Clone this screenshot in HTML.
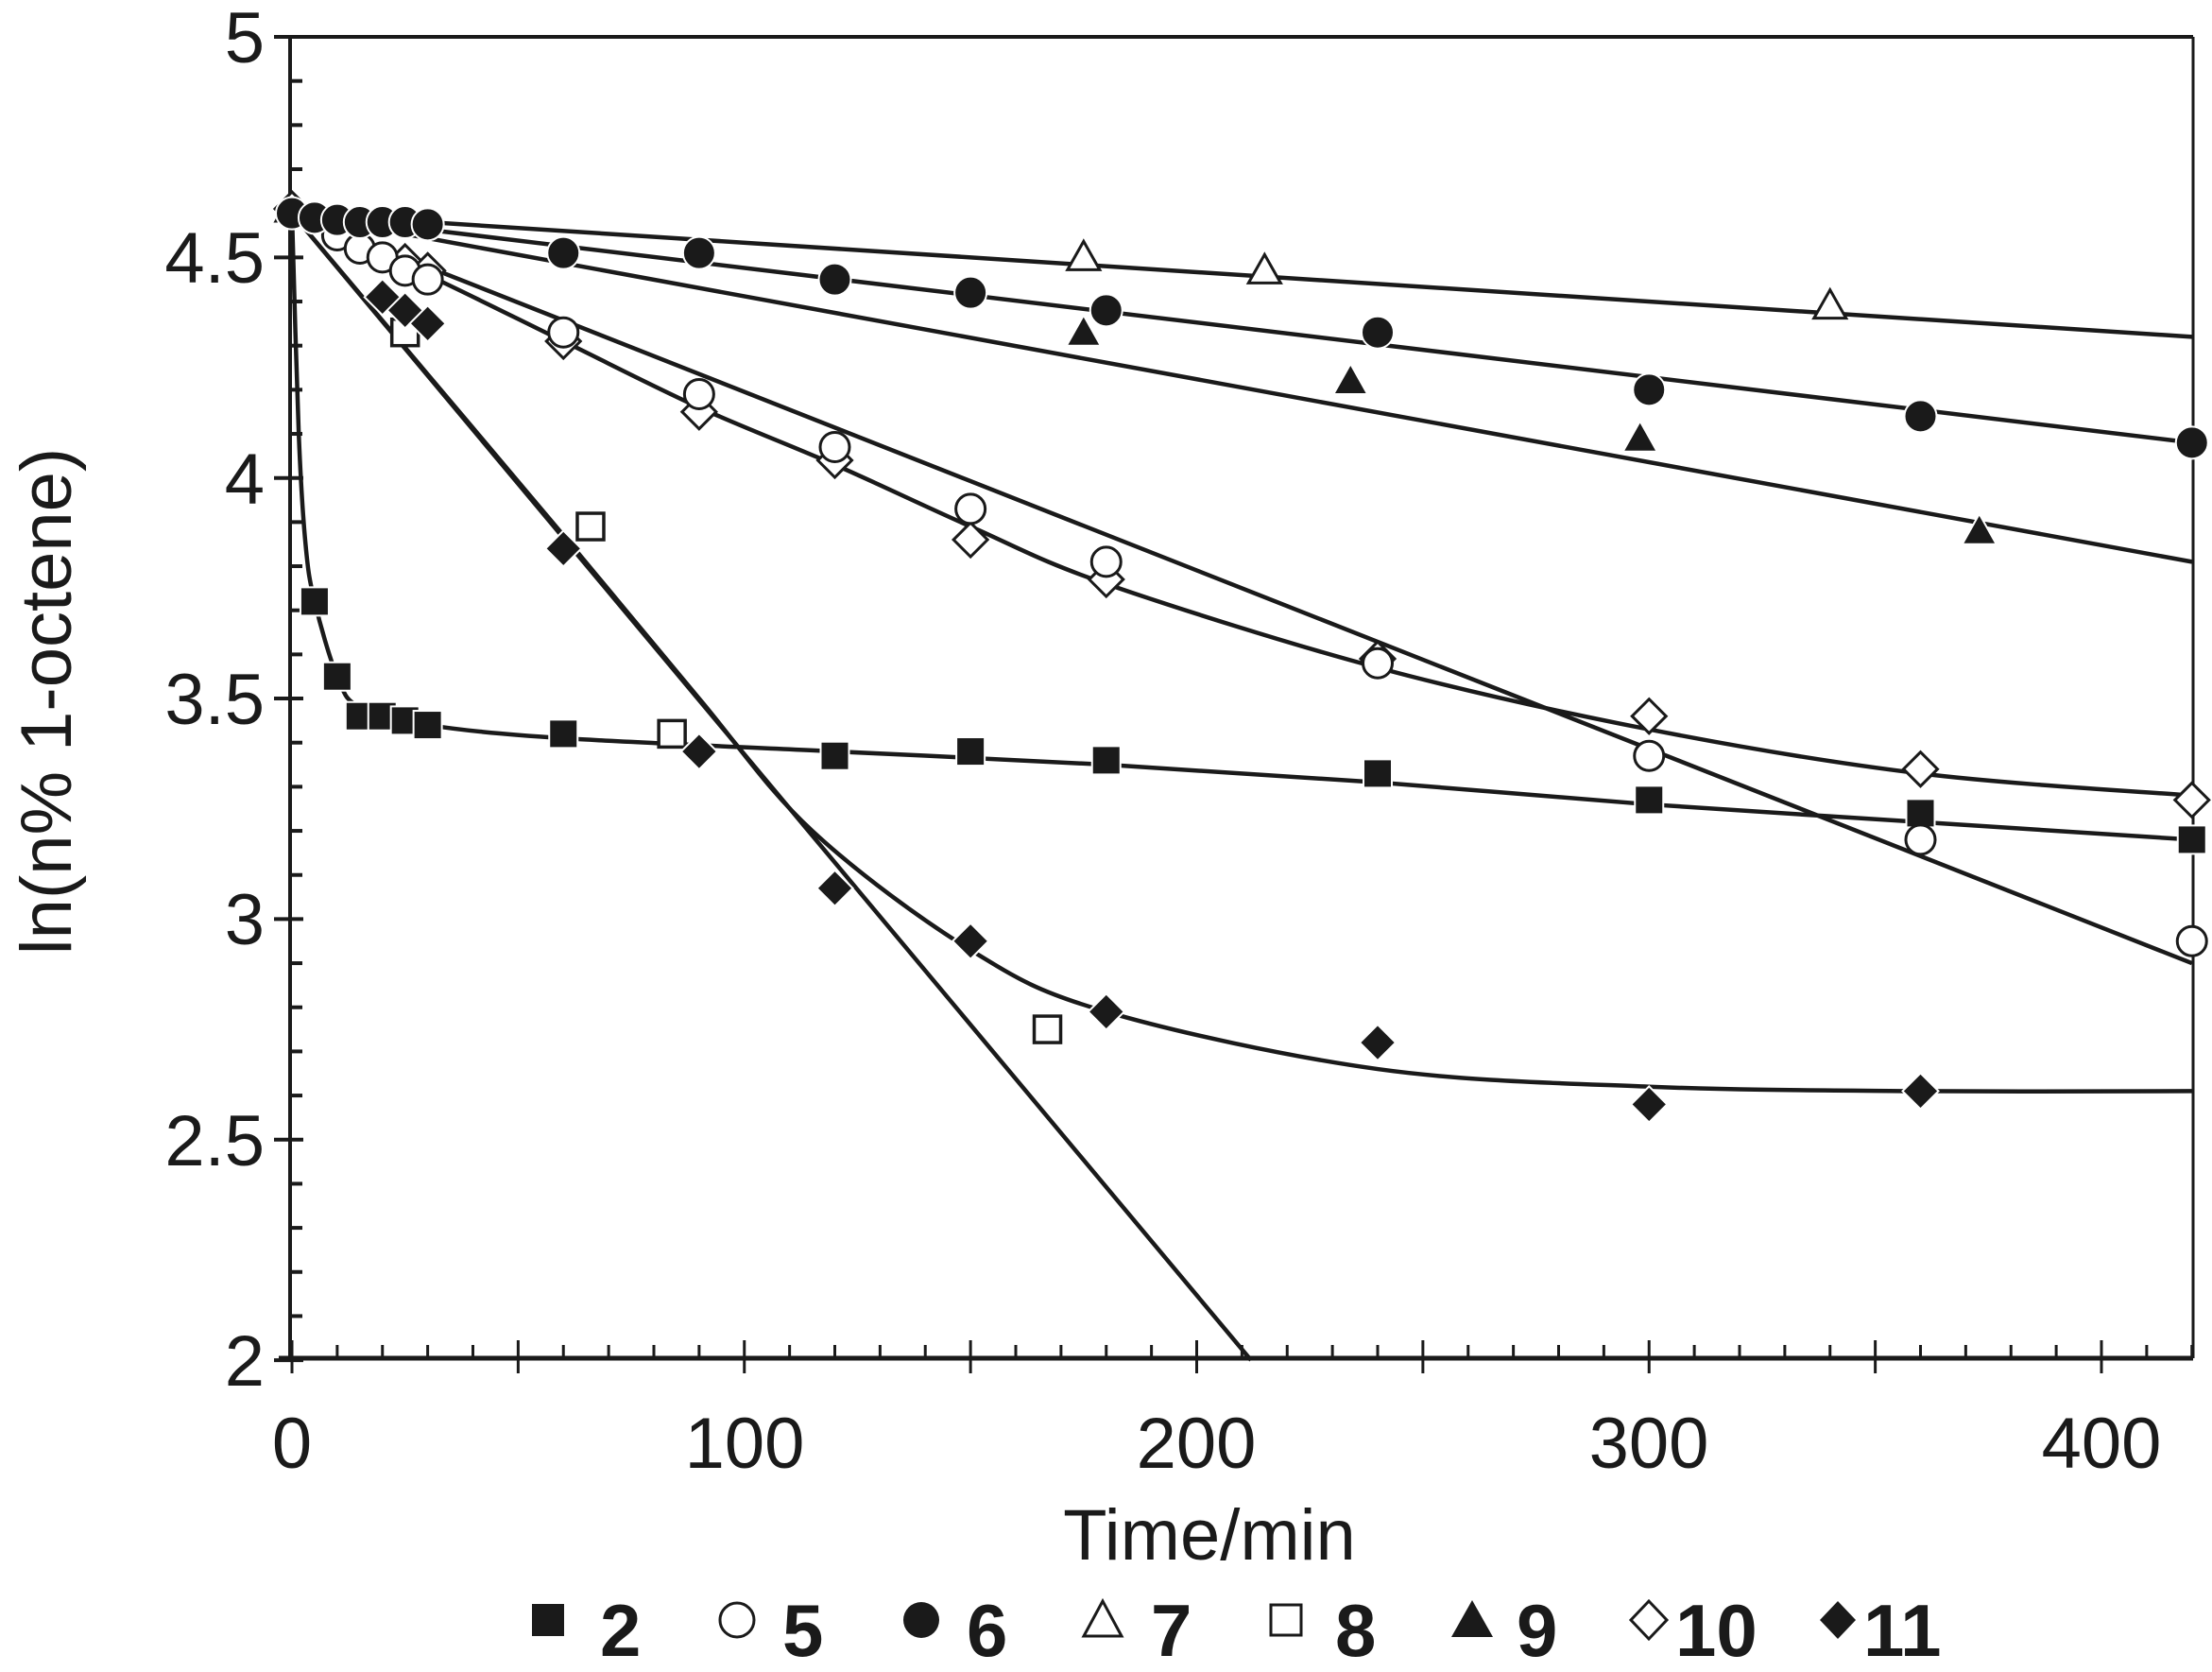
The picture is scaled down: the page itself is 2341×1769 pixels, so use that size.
<!DOCTYPE html>
<html><head><meta charset="utf-8"><style>
html,body{margin:0;padding:0;background:#fff;}
svg{display:block;}
text{font-family:"Liberation Sans",sans-serif;fill:#1a1a1a;}
</style></head><body>
<svg id="s" width="2341" height="1769" viewBox="0 0 2341 1769" xmlns="http://www.w3.org/2000/svg">
<rect width="2341" height="1769" fill="#fff"/>
<g id="axes" stroke="#1a1a1a" fill="none"></g>
<g id="lines" stroke="#1a1a1a" stroke-width="4.5" fill="none"></g>
<g id="marks"></g>
<g font-size="76" text-anchor="end">
<text x="280" y="66">5</text>
<text x="280" y="299">4.5</text>
<text x="280" y="533">4</text>
<text x="280" y="766">3.5</text>
<text x="280" y="999">3</text>
<text x="280" y="1233">2.5</text>
<text x="280" y="1466">2</text>
</g>
<g font-size="76" text-anchor="middle">
<text x="309" y="1553">0</text>
<text x="788" y="1553">100</text>
<text x="1266" y="1553">200</text>
<text x="1745" y="1553">300</text>
<text x="2224" y="1553">400</text>
<text x="1280" y="1650">Time/min</text>
<text transform="translate(75,742) rotate(-90)">ln(n% 1-octene)</text>
</g>
<g font-size="78" font-weight="bold">
<rect x="563" y="1697" width="34" height="34" fill="#1a1a1a"/>
<text x="635" y="1752">2</text>
<circle cx="780" cy="1714" r="18" fill="#fff" stroke="#1a1a1a" stroke-width="3"/>
<text x="828" y="1752">5</text>
<circle cx="975" cy="1714" r="19" fill="#1a1a1a"/>
<text x="1023" y="1752">6</text>
<polygon points="1167,1694 1147,1731 1187,1731" fill="#fff" stroke="#1a1a1a" stroke-width="3"/>
<text x="1218" y="1752">7</text>
<rect x="1345" y="1698" width="32" height="32" fill="#fff" stroke="#1a1a1a" stroke-width="3"/>
<text x="1413" y="1752">8</text>
<polygon points="1558,1693 1536,1732 1580,1732" fill="#1a1a1a"/>
<text x="1605" y="1752">9</text>
<polygon points="1745,1694 1764,1714 1745,1734 1726,1714" fill="#fff" stroke="#1a1a1a" stroke-width="3"/>
<text x="1773" y="1752">10</text>
<polygon points="1945,1694 1964,1714 1945,1734 1926,1714" fill="#1a1a1a"/>
<text x="1972" y="1752">11</text>
</g>
</svg>
<script>
var X=function(t){return 309+t*4.7875;},Y=function(v){return 39+(5-v)*466.7;};
var NS="http://www.w3.org/2000/svg";
function el(p,n,a){var e=document.createElementNS(NS,n);for(var k in a)e.setAttribute(k,a[k]);p.appendChild(e);return e;}
var ax=document.getElementById('axes');
el(ax,'line',{x1:307,y1:39,x2:2321,y2:39,'stroke-width':4});
el(ax,'line',{x1:307,y1:39,x2:307,y2:1437,'stroke-width':4});
el(ax,'line',{x1:2321,y1:39,x2:2321,y2:1437,'stroke-width':3});
el(ax,'line',{x1:295,y1:1437,x2:2321,y2:1437,'stroke-width':5});
for(var i=0;i<=30;i++){var y=Y(5-i*0.1);if(i%5==0)el(ax,'line',{x1:290,y1:y,x2:321,y2:y,'stroke-width':4});else el(ax,'line',{x1:307,y1:y,x2:320,y2:y,'stroke-width':4});}
for(var t=0;t<=420;t+=10){var x=X(t);if(t%50==0)el(ax,'line',{x1:x,y1:1418,x2:x,y2:1453,'stroke-width':3});else el(ax,'line',{x1:x,y1:1423,x2:x,y2:1437,'stroke-width':3});}
var L=document.getElementById('lines');
function line(a,b,t2){el(L,'line',{x1:X(0),y1:Y(a),x2:X(t2||420),y2:Y(b)});}
function curve(pts){var P=pts.map(function(p){return [X(p[0]),Y(p[1])];});var d='M'+P[0][0]+','+P[0][1];
for(var i=0;i<P.length-1;i++){var p0=P[i-1]||P[i],p1=P[i],p2=P[i+1],p3=P[i+2]||p2;
d+=' C'+(p1[0]+(p2[0]-p0[0])/6)+','+(p1[1]+(p2[1]-p0[1])/6)+' '+(p2[0]-(p3[0]-p1[0])/6)+','+(p2[1]-(p3[1]-p1[1])/6)+' '+p2[0]+','+p2[1];}
el(L,'path',{d:d});}
line(4.6,4.32);line(4.6,4.08);line(4.6,3.81);line(4.6,2.9);line(4.6,2.0,212);
curve([[0,4.6],[1.5,4.1],[3,3.85],[5,3.72],[10,3.55],[15,3.48],[30,3.44],[60,3.41],[120,3.38],[180,3.35],[240,3.31],[300,3.26],[360,3.22],[420,3.18]]);
curve([[0,4.6],[30,4.46],[60,4.31],[90,4.16],[120,4.03],[150,3.89],[180,3.76],[240,3.57],[300,3.43],[360,3.33],[420,3.28]]);
curve([[0,4.6],[30,4.235],[60,3.87],[90,3.5],[115,3.2],[150,2.93],[180,2.79],[240,2.66],[300,2.62],[360,2.61],[420,2.61]]);
var M=document.getElementById('marks');
function mk(type,t,v){var x=X(t),y=Y(v),k='#1a1a1a';
if(type=='fs')el(M,'rect',{x:x-15,y:y-15,width:30,height:30,fill:k,stroke:'#fff','stroke-width':2});
if(type=='os')el(M,'rect',{x:x-14,y:y-14,width:28,height:28,fill:'#fff',stroke:k,'stroke-width':3.5});
if(type=='fc')el(M,'circle',{cx:x,cy:y,r:17,fill:k,stroke:'#fff','stroke-width':2});
if(type=='oc')el(M,'circle',{cx:x,cy:y,r:15.5,fill:'#fff',stroke:k,'stroke-width':3});
if(type=='ft')el(M,'polygon',{points:(x)+','+(y-18)+' '+(x-18)+','+(y+14)+' '+(x+18)+','+(y+14),fill:k,stroke:'#fff','stroke-width':2});
if(type=='ot')el(M,'polygon',{points:(x)+','+(y-17)+' '+(x-17)+','+(y+13)+' '+(x+17)+','+(y+13),fill:'#fff',stroke:k,'stroke-width':3});
if(type=='fd')el(M,'polygon',{points:x+','+(y-19)+' '+(x+19)+','+y+' '+x+','+(y+19)+' '+(x-19)+','+y,fill:k,stroke:'#fff','stroke-width':2});
if(type=='od')el(M,'polygon',{points:x+','+(y-18)+' '+(x+18)+','+y+' '+x+','+(y+18)+' '+(x-18)+','+y,fill:'#fff',stroke:k,'stroke-width':3});}
var D={
fs:[[5,3.72],[10,3.55],[15,3.46],[20,3.46],[25,3.45],[30,3.44],[60,3.42],[120,3.37],[150,3.38],[180,3.36],[240,3.33],[300,3.27],[360,3.24],[420,3.18]],
os:[[25,4.33],[66,3.89],[84,3.42],[167,2.75]],
ot:[[0,4.61],[175,4.5],[215,4.47],[340,4.39]],
ft:[[175,4.33],[234,4.22],[298,4.09],[373,3.88]],
od:[[0,4.61],[25,4.49],[30,4.47],[60,4.31],[90,4.15],[120,4.04],[150,3.86],[180,3.77],[240,3.59],[300,3.46],[360,3.34],[420,3.27]],
oc:[[0,4.6],[10,4.55],[15,4.52],[20,4.5],[25,4.47],[30,4.45],[60,4.33],[90,4.19],[120,4.07],[150,3.93],[180,3.81],[240,3.58],[300,3.37],[360,3.18],[420,2.95]],
fd:[[20,4.41],[25,4.38],[30,4.35],[60,3.84],[90,3.38],[120,3.07],[150,2.95],[180,2.79],[240,2.72],[300,2.58],[360,2.61]],
fc:[[0,4.6],[5,4.59],[10,4.585],[15,4.58],[20,4.58],[25,4.58],[30,4.575],[60,4.51],[90,4.51],[120,4.45],[150,4.42],[180,4.38],[240,4.33],[300,4.2],[360,4.14],[420,4.08]]};
for(var k in D)D[k].forEach(function(p){mk(k,p[0],p[1]);});
</script>
</body></html>
